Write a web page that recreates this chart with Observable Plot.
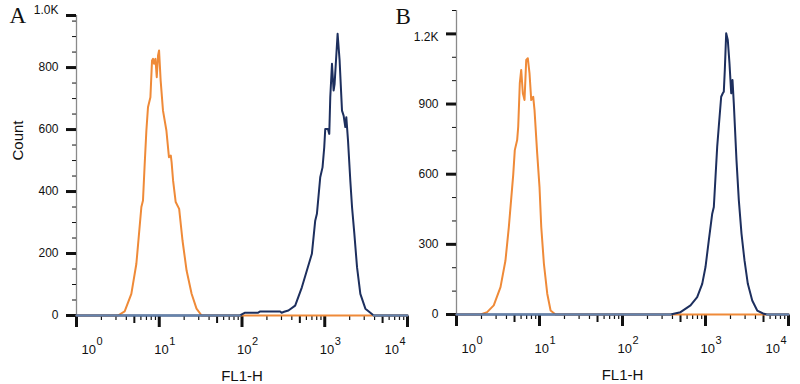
<!DOCTYPE html>
<html><head><meta charset="utf-8">
<script src="https://cdn.jsdelivr.net/npm/d3@7"></script>
<script src="https://cdn.jsdelivr.net/npm/@observablehq/plot@0.6"></script>
<style>
body{margin:0;background:#fff;}
#wrap{position:relative;width:800px;height:384px;background:#fff;}
#wrap svg{position:absolute;left:0;top:0;}
</style></head><body><div id="wrap"></div>
<script>
// ---- x axis (log decades) ----
const decades = [1, 10, 100, 1000, 10000];
const exponents = ["0", "1", "2", "3", "4"];
const xLabel = "FL1-H";
const yLabel = "Count";

// ---- Panel A ----
const orangeA_x = [1, 3.17, 3.82, 4.60, 5.29, 6.08, 6.36, 6.67, 6.99, 7.31, 7.82, 8.18, 8.41, 8.65, 8.99, 9.33, 9.67, 9.95, 10.4, 11.1, 12.2, 13.1, 13.8, 14.1, 14.7, 15.8, 17.4, 19.1, 21.4, 24.6, 28.2, 32.5, 10000];
const orangeA_c = [0, 0, 13, 70, 167, 350, 371, 489, 597, 672, 704, 823, 828, 812, 828, 769, 839, 855, 758, 661, 597, 511, 516, 495, 435, 366, 344, 242, 145, 70, 22, 0, 0];
const blueA_x = [1, 94, 109, 157, 166, 289, 301, 323, 364, 439, 529, 608, 699, 767, 804, 882, 940, 986, 1014, 1093, 1134, 1166, 1223, 1279, 1315, 1430, 1512, 1616, 1691, 1772, 1822, 1910, 2037, 2136, 2278, 2455, 2692, 3097, 3908, 10000];
const blueA_c = [0, 0, 9, 9, 13, 13, 9, 12, 16, 32, 91, 145, 199, 306, 328, 446, 478, 543, 602, 602, 586, 704, 812, 726, 747, 909, 823, 661, 645, 608, 640, 565, 435, 350, 264, 156, 70, 22, 0, 0];
const yTopA = 968;
const yMajorA = [0, 200, 400, 600, 800, 968];
const yMajorLabelsA = ["0", "200", "400", "600", "800", "1.0K"];
const yMinorA = [50, 100, 150, 250, 300, 350, 450, 500, 550, 650, 700, 750, 850, 900, 950];

// ---- Panel B ----
const orangeB_x = [1, 1.95, 2.34, 2.81, 3.39, 3.89, 4.27, 4.69, 4.82, 5.04, 5.38, 5.54, 5.79, 6.02, 6.30, 6.60, 6.92, 7.23, 7.58, 7.95, 8.40, 8.71, 9.38, 10.0, 10.5, 11.3, 12.4, 13.6, 15.6, 10000];
const orangeB_c = [0, 0, 10, 39, 117, 231, 374, 546, 596, 703, 746, 803, 989, 1046, 946, 917, 1089, 1096, 1031, 917, 931, 874, 689, 546, 374, 217, 89, 17, 0, 0];
const blueB_x = [1, 379, 500, 660, 794, 913, 1000, 1096, 1205, 1260, 1320, 1383, 1445, 1545, 1616, 1662, 1709, 1775, 1856, 1945, 2040, 2115, 2193, 2362, 2520, 2714, 2951, 3236, 3656, 4198, 5040, 5530, 10000];
const blueB_c = [0, 0, 10, 39, 74, 131, 203, 317, 431, 460, 588, 717, 803, 931, 946, 953, 1046, 1203, 1174, 1074, 946, 1003, 903, 660, 489, 346, 231, 131, 60, 17, 3, 0, 0];
const yTopB = 1300;
const yMajorB = [0, 300, 600, 900, 1200];
const yMajorLabelsB = ["0", "300", "600", "900", "1.2K"];
const yMinorB = [100, 200, 400, 500, 700, 800, 1000, 1100, 1300];

const ORANGE = "#ef8a38", NAVY = "#1d2f5e", STEEL = "#6584ad", AXIS = "#8a8a8a";
const FONT = "'Liberation Sans', Arial, Helvetica, sans-serif";
const W = 800, H = 384;

const zip = (xs, cs) => xs.map((x, i) => ({x, c: cs[i]}));
const xMinor = [], xMid = [];
for (const d of decades.slice(0, -1)) for (let k = 2; k < 10; k++) (k === 5 ? xMid : xMinor).push(d * k);
const xTickData = decades.map((v, i) => ({v, base: "10", exp: exponents[i]}));

function panel({orange, blue, yTop, major, majorLabels, minor, margins, letter, letterDx, letterDy, showYLabel, labelTopDy}) {
  const fw = W - margins.marginLeft - margins.marginRight;
  const fh = H - margins.marginTop - margins.marginBottom;
  const yTick = (vals, len, sw) => Plot.tickY(vals, {y: d => d, insetRight: fw - len, dx: -len, stroke: "#111", strokeWidth: sw});
  const xTick = (vals, len, sw) => Plot.tickX(vals, {x: d => d, insetTop: fh - len, dy: len + 1, stroke: "#111", strokeWidth: sw});
  const first = xTickData.slice(0, 1), mid = xTickData.slice(1, -1), last = xTickData.slice(-1);
  const baseOpts = {x: "v", text: "base", frameAnchor: "bottom", lineAnchor: "bottom", textAnchor: "start", dy: 38, fontSize: 13};
  const expOpts = {x: "v", text: "exp", frameAnchor: "bottom", lineAnchor: "bottom", textAnchor: "start", dy: 29, fontSize: 11};
  const lastMajor = major.slice(-1), otherMajor = major.slice(0, -1);
  const yText = (vals, dy) => Plot.text(vals, {y: d => d, text: d => majorLabels[major.indexOf(d)], frameAnchor: "left", textAnchor: "end", dx: -18, dy, fontSize: 12});
  const marks = [
    Plot.ruleX([1], {y1: 0, y2: yTop, stroke: AXIS, strokeWidth: 1.3}),
    yTick(minor, 4, 1),
    yTick(major, 10, 3),
    xTick(xMinor, 4, 1.2),
    xTick(xMid, 7, 2),
    xTick(decades, 11, 3),
    yText(otherMajor, 0),
    yText(lastMajor, labelTopDy),
    Plot.line(orange, {x: "x", y: "c", stroke: ORANGE, strokeWidth: 2}),
    Plot.line(blue, {x: "x", y: "c", stroke: NAVY, strokeWidth: 2}),
    Plot.line(blue, {x: "x", y: d => d.c === 0 ? 0 : NaN, stroke: STEEL, strokeWidth: 2.2}),
    Plot.text(first, {...baseOpts, dx: 5}),
    Plot.text(first, {...expOpts, dx: 20}),
    Plot.text(mid, {...baseOpts, dx: -5}),
    Plot.text(mid, {...expOpts, dx: 10}),
    Plot.text(last, {...baseOpts, dx: -23}),
    Plot.text(last, {...expOpts, dx: -8}),
    Plot.text([xLabel], {frameAnchor: "bottom", lineAnchor: "bottom", dy: 65, fontSize: 15}),
    Plot.text([letter], {frameAnchor: "top-left", textAnchor: "start", lineAnchor: "bottom", dx: letterDx, dy: letterDy, fontSize: 23, fontFamily: "'Liberation Serif', 'Times New Roman', serif"})
  ];
  if (showYLabel) marks.push(Plot.text([yLabel], {frameAnchor: "left", rotate: -90, dx: -58, dy: -5, fontSize: 15}));
  return Plot.plot({
    width: W, height: H,
    ...margins,
    x: {type: "log", domain: [1, 10000], axis: null},
    y: {domain: [0, yTop], axis: null},
    style: {background: "transparent", fontFamily: FONT, fontSize: "12px", color: "#111", overflow: "visible"},
    marks
  });
}

const wrap = document.getElementById("wrap");
wrap.append(panel({
  orange: zip(orangeA_x, orangeA_c), blue: zip(blueA_x, blueA_c),
  yTop: yTopA, major: yMajorA, majorLabels: yMajorLabelsA, minor: yMinorA,
  margins: {marginLeft: 76, marginRight: 393, marginTop: 15, marginBottom: 69},
  letter: "A", letterDx: -67, letterDy: 7, showYLabel: true, labelTopDy: -5
}));
wrap.append(panel({
  orange: zip(orangeB_x, orangeB_c), blue: zip(blueB_x, blueB_c),
  yTop: yTopB, major: yMajorB, majorLabels: yMajorLabelsB, minor: yMinorB,
  margins: {marginLeft: 456, marginRight: 12, marginTop: 10, marginBottom: 70},
  letter: "B", letterDx: -61, letterDy: 13, showYLabel: false, labelTopDy: 3
}));
</script></body></html>
